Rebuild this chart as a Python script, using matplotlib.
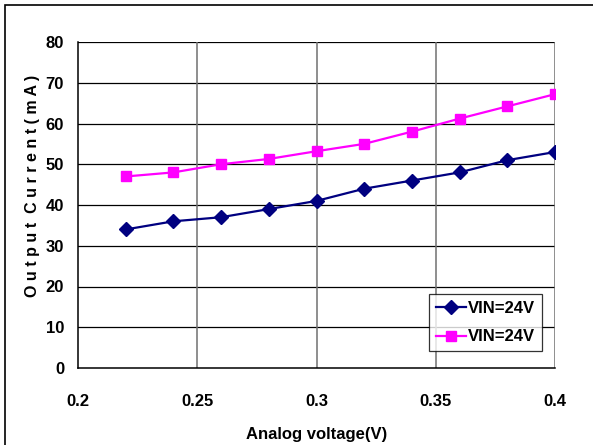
import matplotlib.pyplot as plt
from matplotlib.patches import Rectangle

# datos
voltaje = [0.22, 0.24, 0.26, 0.28, 0.30, 0.32, 0.34, 0.36, 0.38, 0.40]
corriente_a = [34, 36, 37, 39, 41, 44, 46, 48, 51, 53]
corriente_b = [47, 48, 50, 51.3, 53.2, 55, 58, 61.2, 64.2, 67.2]
etiquetas = ['VIN=24V', 'VIN=24V']
xticks = [0.2, 0.25, 0.3, 0.35, 0.4]
yticks = [0, 10, 20, 30, 40, 50, 60, 70, 80]

plt.rcParams['font.family'] = ['Liberation Sans', 'DejaVu Sans']
plt.rcParams['font.weight'] = 'bold'
plt.rcParams['axes.labelweight'] = 'bold'

fig = plt.figure(figsize=(5.93, 4.45), dpi=100)
# marco exterior
fig.patches.append(Rectangle((5 / 593, -0.1), 1.2, 1.1 - 5 / 445, transform=fig.transFigure,
                             fill=False, edgecolor='black', linewidth=1.2))
ax = fig.add_axes([78 / 593, 1 - 368 / 445, (555 - 78) / 593, (368 - 42) / 445])

ax.plot(voltaje, corriente_a, color='#000080', marker='D', markersize=7, linewidth=1.6,
        label=etiquetas[0], zorder=3)
ax.plot(voltaje, corriente_b, color='#FF00FF', marker='s', markersize=7.5, linewidth=1.6,
        label=etiquetas[1], zorder=3)

ax.set_xlim(0.2, 0.4)
ax.set_ylim(0, 80)
ax.set_xticks(xticks)
ax.set_xticklabels([str(t) for t in xticks])
ax.set_yticks(yticks)
ax.tick_params(length=0, labelsize=12, pad=10)
ax.tick_params(axis='x', pad=19)

for y in yticks[1:]:
    ax.axhline(y, color='black', linewidth=0.9, zorder=1)
for x in xticks[1:]:
    ax.axvline(x, color='#707070', linewidth=1.1, zorder=1)

for lado in ['top', 'right']:
    ax.spines[lado].set_visible(False)
ax.spines['left'].set_linewidth(1.1)
ax.spines['bottom'].set_linewidth(1.1)

ax.set_xlabel('Analog voltage(V)', fontsize=12, labelpad=13)
ax.set_ylabel('O u t p u t  C u r r e n t ( m A )', fontsize=11.5, labelpad=8)
ax.yaxis.set_label_coords(-0.08, (368 - 186) / 326)

leg = ax.legend(loc='lower right', fontsize=12, frameon=True, fancybox=False,
                edgecolor='black', handlelength=1.8, borderaxespad=0,
                borderpad=0.4, labelspacing=0.8, handletextpad=0.15)
leg.get_frame().set_linewidth(0.9)
leg.set_bbox_to_anchor(((542 - 78) / 477, (368 - 351) / 326), transform=ax.transAxes)

fig.savefig('out.png', dpi=100)
